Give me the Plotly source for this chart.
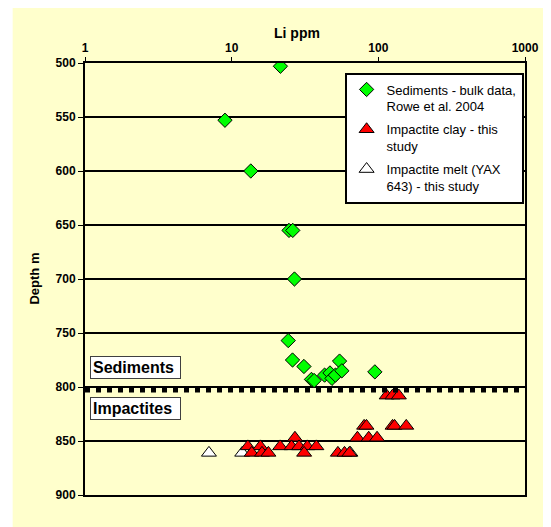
import plotly.graph_objects as go

# ---- data ----
sed_li = [21.5, 9.0, 13.5, 24.6, 26.1, 26.8, 24.3, 26.0, 31.1, 35.0, 36.5, 43.0, 46.8, 48.3, 51.0, 54.4, 56.4, 94.7]
sed_depth = [503, 553, 600, 655, 655, 700, 757, 775, 781, 793, 794, 789, 787, 792, 789, 776, 785, 786]

clay_li = [114, 125, 138,
           80, 83, 125, 129, 155,
           27, 72, 86, 98,
           12.9, 15.7, 21.4, 25.6, 28.8, 32.8, 37.8,
           13.7, 16.1, 17.8, 31.2, 53, 58.8, 63.5]
clay_depth = [808, 808, 808,
              836, 836, 836, 836, 836,
              847, 847, 847, 847,
              855, 855, 855, 855, 855, 855, 855,
              861, 861, 861, 861, 861, 861, 861]

melt_li = [7.0, 11.8, 64.5]
melt_depth = [861, 861, 861]

x_ticks = [1, 10, 100, 1000]
y_ticks = [500, 550, 600, 650, 700, 750, 800, 850, 900]
boundary_depth = 803

YELLOW = "#FFFFCC"
FONT = "Liberation Sans, Arial, sans-serif"

fig = go.Figure()
fig.add_trace(go.Scatter(
    x=sed_li, y=sed_depth, mode="markers",
    name="Sediments - bulk data,<br>Rowe et al. 2004",
    marker=dict(symbol="diamond", size=11, color="#00FF00", line=dict(color="black", width=1)),
    legendgroup="a", legendrank=1))
fig.add_trace(go.Scatter(
    x=melt_li, y=melt_depth, mode="markers",
    name="Impactite melt (YAX<br>643) - this study",
    marker=dict(symbol="triangle-up", size=13, color="white", line=dict(color="black", width=1)),
    legendgroup="c", legendrank=3))
fig.add_trace(go.Scatter(
    x=clay_li, y=clay_depth, mode="markers",
    name="Impactite clay - this<br>study",
    marker=dict(symbol="triangle-up", size=13, color="#FF0000", line=dict(color="black", width=1)),
    legendgroup="b", legendrank=2))

# background panel (white margin at left/top, yellow elsewhere)
fig.add_shape(type="rect", xref="paper", yref="paper",
              x0=-0.1644, x1=1.08, y0=-0.1, y1=1.14,
              fillcolor=YELLOW, line=dict(width=0), layer="below")

# dotted boundary line
fig.add_shape(type="line", xref="paper", yref="y", x0=0, x1=1,
              y0=boundary_depth, y1=boundary_depth,
              line=dict(color="black", width=4.5, dash="5px,6px"), layer="above")

box_common = dict(xref="paper", yref="y", x=0.0113, xanchor="left", yanchor="middle",
                  showarrow=False, align="left", bgcolor="white", bordercolor="#404040",
                  borderwidth=1, borderpad=2, width=85,
                  font=dict(family=FONT, size=16, color="black", weight="bold"))
fig.add_annotation(text="Sediments", y=781.5, **box_common)
fig.add_annotation(text="Impactites", y=820, **box_common)

fig.add_annotation(text="Li ppm", xref="paper", yref="paper", x=0.481, y=1.069,
                   xanchor="center", yanchor="middle",
                   showarrow=False, font=dict(family=FONT, size=14, color="black", weight="bold"))
fig.add_annotation(text="Depth m", xref="paper", yref="paper", x=-0.117, y=0.5, textangle=-90,
                   xanchor="center", yanchor="middle",
                   showarrow=False, font=dict(family=FONT, size=13, color="black", weight="bold"))

fig.update_xaxes(type="log", range=[0, 3], side="top", tickvals=x_ticks,
                 ticktext=[str(v) for v in x_ticks], showgrid=False, zeroline=False,
                 showline=True, linewidth=2, linecolor="black", mirror=True,
                 ticks="outside", ticklen=4, tickwidth=1, tickcolor="black",
                 tickfont=dict(family=FONT, size=12, color="black", weight="bold"))
fig.update_yaxes(range=[900, 500], tickvals=y_ticks, showgrid=True, gridcolor="black",
                 gridwidth=2, zeroline=False, showline=True, linewidth=2, linecolor="black",
                 mirror=True, ticks="outside", ticklen=5, tickwidth=1, tickcolor="black",
                 tickfont=dict(family=FONT, size=12, color="black", weight="bold"))

# the page body adds an 8px offset, so the figure is 8px smaller than the window
fig.update_layout(
    width=543, height=519,
    margin=dict(l=77, r=22, t=55, b=32),
    paper_bgcolor="white", plot_bgcolor=YELLOW,
    showlegend=True,
    legend=dict(x=0.590, y=0.978, xanchor="left", yanchor="top",
                bgcolor="white", bordercolor="black", borderwidth=2,
                font=dict(family=FONT, size=13, color="black"),
                valign="top", tracegroupgap=3, itemwidth=30),
)

fig.write_html("out.html")
